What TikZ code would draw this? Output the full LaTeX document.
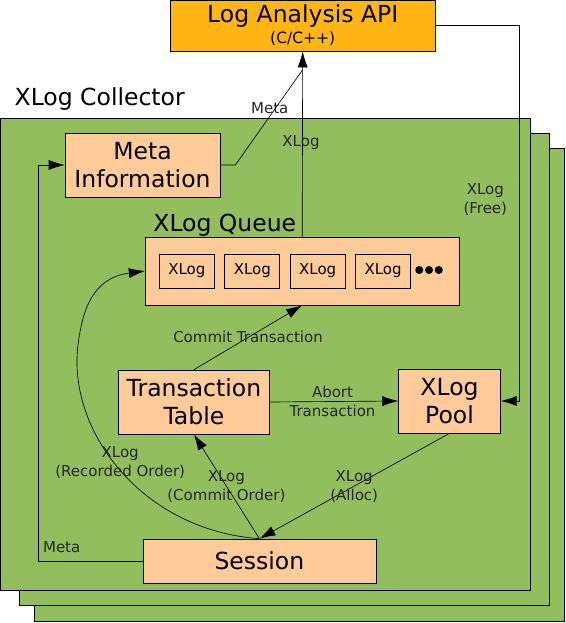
\documentclass[tikz,border=0pt]{standalone}
\usepackage{fontspec}
\setmainfont{DejaVu Sans}
\usetikzlibrary{arrows.meta}
\usetikzlibrary{positioning}
\definecolor{apiorange}{HTML}{FFB515}
\definecolor{collgreen}{HTML}{92BE5E}
\definecolor{peach}{HTML}{FFCC99}
\tikzstyle{every node}+=[inner sep=0pt]
\tikzstyle{block} = [rectangle, draw, fill=peach, font=\fontsize{23.5}{28}\selectfont, align=center]
\tikzstyle{xlogbox} = [rectangle, draw, fill=peach, font=\fontsize{15}{16}\selectfont, minimum width=55pt, minimum height=34pt]
\tikzstyle{line} = [draw, -{Latex[length=16pt,width=10pt]}]
\tikzstyle{value} = [font=\fontsize{15}{19}\selectfont, align=center, black!85]
\tikzstyle{card} = [draw, fill=collgreen]
\tikzstyle{dot} = [circle, fill, minimum size=8pt]

\begin{document}
\begin{tikzpicture}[x=1pt, y=-1pt, line width=0.65pt]
            \useasboundingbox (0,0) rectangle (565,623);
            % Collector stack
            \draw [card] (34.7,148) rectangle (564.3,621);
            \draw [card] (19.5,133) rectangle (549.2,605);
            \draw [card] (0,118) rectangle (530.8,590);
            \node [font=\fontsize{23.5}{23.5}\selectfont] (coll) at (99.7,99) {XLog Collector};
            % Place nodes
            \node [block, fill=apiorange, font=\fontsize{23.5}{21}\selectfont, minimum width=265pt, minimum height=51pt] (api) at (302.7,25.5) {Log Analysis API\\{\fontsize{15.5}{21}\selectfont (C/C++)}};
            \node [block, minimum width=155pt, minimum height=64pt] (meta) at (142.5,165) {Meta\\Information};
            \node [font=\fontsize{23.5}{23.5}\selectfont] (qlabel) at (224.8,225) {XLog Queue};
            \node [block, minimum width=314pt, minimum height=68pt] (queue) at (302.2,271) {};
            \node [xlogbox] (q1) at (186.9,271) {XLog};
            \node [xlogbox, right=9.75pt of q1] (q2) {XLog};
            \node [xlogbox, right=9.75pt of q2] (q3) {XLog};
            \node [xlogbox, right=9.75pt of q3] (q4) {XLog};
            \foreach \i in {1,2,3}
                \node [dot] (d\i) at (409.5+9.75*\i,270) {};
            \node [block, minimum width=151.6pt, minimum height=64pt] (ttable) at (193.9,402) {Transaction\\Table};
            \node [block, minimum width=101.8pt, minimum height=64pt] (pool) at (449.5,401) {XLog\\Pool};
            \node [block, minimum width=232.9pt, minimum height=44pt] (session) at (259.4,561) {Session};
            \coordinate (metain) at (302.5,70);
            \coordinate (freecorner) at (518.9,25.5);
            \coordinate (metacorner) at (37.9,561);
            % Draw edges
            \path [line] (queue.north) -- (api.south);
            \draw (meta.east) -- ++(15,0) -- (metain);
            \path [line] (api.east) -- (freecorner) |- (pool.east);
            \path [line] (session.west) -- (metacorner) |- (meta.west);
            \path [line] (session.north) .. controls (140.8,530) and (67.2,430) .. (78,345)
                .. controls (82.3,311) and (92,278) .. (queue.west);
            \path [line] (session.north) -- (ttable.south);
            \path [line] (pool.south) -- (session.north);
            \path [line] (ttable.east) -- (pool.west);
            \path [line] (ttable.north) -- (queue.south);
            % Edge labels
            \node [value] (lmeta) at (269.7,108) {Meta};
            \node [value] (lxlog) at (301,143) {XLog};
            \node [value] (lfree) at (485.3,200) {XLog\\(Free)};
            \node [value] (lcommit) at (248,337) {Commit Transaction};
            \node [value] (labort) at (332.5,401) {Abort\\Transaction};
            \node [value] (lrec) at (120.2,463) {XLog\\(Recorded Order)};
            \node [value] (lcorder) at (226.4,487) {XLog\\(Commit Order)};
            \node [value] (lalloc) at (354.2,487) {XLog\\(Alloc)};
            \node [value] (lsmeta) at (61.7,547) {Meta};
\end{tikzpicture}
\end{document}
